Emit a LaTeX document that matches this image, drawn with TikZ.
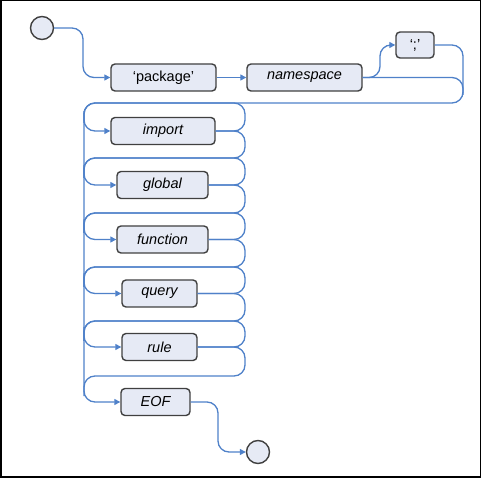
\documentclass[tikz,border=0pt]{standalone}
\usepackage{fontspec}
\setmainfont{Liberation Sans}
\usetikzlibrary{arrows.meta}
\definecolor{railc}{RGB}{79,129,201}
\definecolor{boxfill}{RGB}{230,234,245}
\definecolor{boxline}{RGB}{64,64,64}
\begin{document}
\begin{tikzpicture}[x=1pt,y=-1pt,
  rr/.style={draw=boxline, fill=boxfill, line width=1.4pt, rounded corners=4pt, minimum height=27pt, inner sep=0pt, font=\fontsize{14.5}{16}\selectfont},
  nt/.style={rr, font=\fontsize{14.5}{16}\selectfont\itshape},
  term/.style={circle, draw=boxline, fill=boxfill, line width=1.4pt, minimum size=23pt, inner sep=0pt},
  rail/.style={draw=railc, line width=1.3pt, rounded corners=11pt},
  arr/.style={-{Triangle[length=6pt,width=6pt]}}]
\useasboundingbox (0,0) rectangle (482,478);
\draw[line width=1.5pt] (0.75,0.75) rectangle (480.5,477);
% nodes
\node[term] (start) at (42,28) {};
\node[rr, minimum width=105pt] (pkg) at (163.5,77.5) {‘package’};
\node[nt, minimum width=115pt] (ns) at (304.5,77.5) {namespace};
\node[rr, minimum width=38pt, minimum height=26pt] (semi) at (415,45) {‘;’};
\node[nt, minimum width=104pt] (imp) at (163,131) {import};
\node[nt, minimum width=91pt] (glob) at (162.5,185) {global};
\node[nt, minimum width=91pt] (fun) at (162.5,239.5) {function};
\node[nt, minimum width=75pt] (qry) at (159.5,293.5) {query};
\node[nt, minimum width=75pt] (rul) at (159.5,347) {rule};
\node[nt, minimum width=69pt] (eof) at (155.5,402) {EOF};
\node[term] (end) at (258,452) {};
% rails
\draw[rail,arr] (start.east) -- (83,28) -- (83,77.5) -- (pkg.west);
\draw[rail,arr] (pkg.east) -- (ns.west);
\draw[rail,arr] (ns.east) -- (380,77.5) -- (380,45) -- (semi.west);
\draw[rail] (semi.east) -- (463,45) -- (463,95);
\draw[rail,arr] (ns.east) -- (463,77.5) -- (463,103) -- (84,103) -- (84,402) -- (eof.west);
\foreach \n/\y/\t/\b in {imp/131/103/158, glob/185/158/213, fun/239.5/213/267, qry/293.5/267/321, rul/347/321/376} {
  \draw[rail,arr] (84,\y-20) -- (84,\y) -- (\n.west);
  \draw[rail] (\n.east) -- (245,\y) -- (245,\t) -- (84,\t) -- (84,\t+20);
  \draw[rail] (\n.east) -- (245,\y) -- (245,\b) -- (84,\b) -- (84,\b+20);
}
\draw[rail,arr] (eof.east) -- (218,402) -- (218,452) -- (end.west);
\end{tikzpicture}
\end{document}
